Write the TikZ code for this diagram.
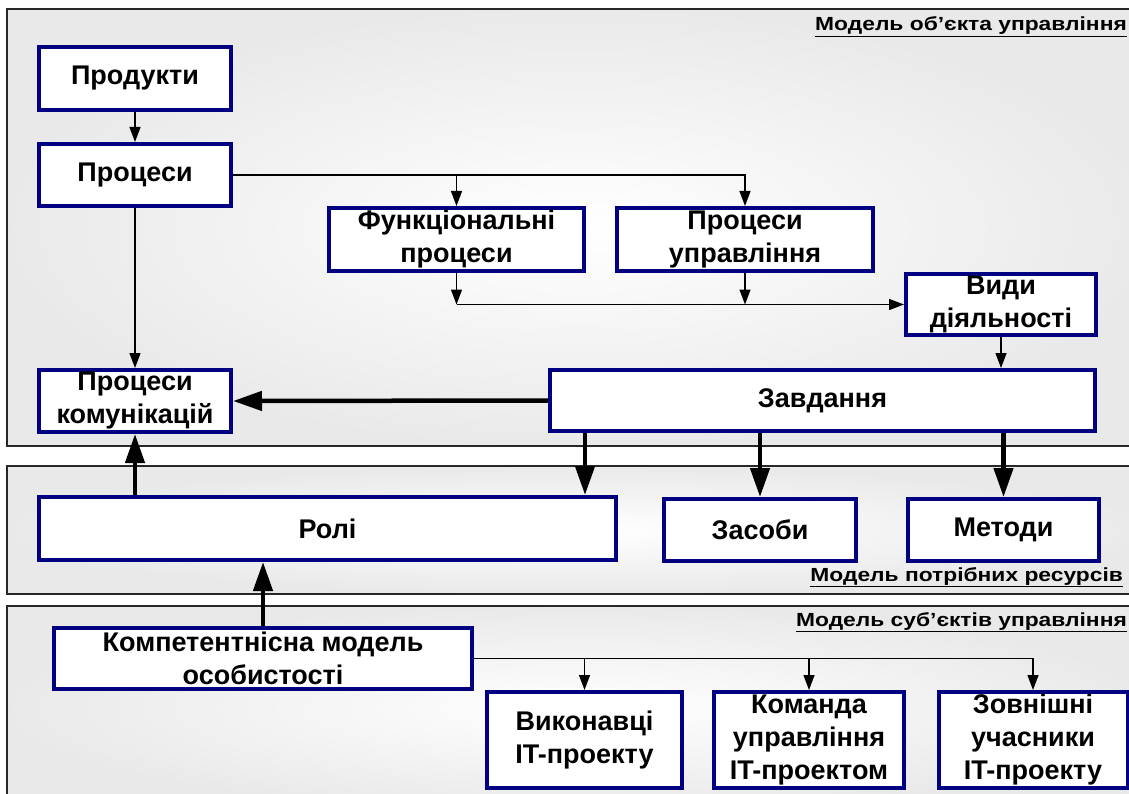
\documentclass[tikz,border=0pt]{standalone}
\usepackage{fontspec}
\setmainfont{Liberation Sans}
\newfontfamily\labelfont[FakeStretch=1.2]{Liberation Sans}
\usetikzlibrary{arrows.meta}
\definecolor{boxblue}{RGB}{0,0,128}
\definecolor{panelline}{RGB}{40,40,40}
\tikzset{
  panel/.style={draw=panelline, line width=1.3pt, inner color=white, outer color=gray!17},
  box/.style={draw=boxblue, line width=4pt, fill=white, inner sep=0pt, align=center,
    font=\fontsize{27}{33}\selectfont\bfseries},
  plabel/.style={anchor=east, inner sep=0pt, font=\labelfont\fontsize{19}{22}\selectfont\bfseries},
  thin/.style={line width=1.3pt, -{Triangle[length=15pt,width=11pt]}},
  thick/.style={line width=4.5pt, -{Triangle[length=29pt,width=19pt]}}
}
\begin{document}
\begin{tikzpicture}[x=1pt,y=-1pt]
\useasboundingbox (0,0) rectangle (1129,794);
\clip (0,0) rectangle (1129,794);
\fill[white] (0,0) rectangle (1129,794);
% panels
\path[panel] (7,9) rectangle (1150,446);
\path[panel] (7,466) rectangle (1150,594);
\path[panel] (7,606) rectangle (1150,810);
\node[plabel] (l1) at (1127,27) {\underline{Модель об’єкта управління}};
\node[plabel] (l2) at (1123,577) {\underline{Модель потрібних ресурсів}};
\node[plabel] (l3) at (1127,622) {\underline{Модель суб’єктів управління}};
% boxes
\node[box, minimum width=192, minimum height=63] (prod) at (135,78.5) {Продукти};
\node[box, minimum width=192, minimum height=62] (proc) at (135,175) {Процеси};
\node[box, minimum width=255, minimum height=63] (func) at (456.5,239.5) {Функціональні\\процеси};
\node[box, minimum width=256, minimum height=63] (upr) at (745,239.5) {Процеси\\управління};
\node[box, minimum width=190, minimum height=61] (vydy) at (1001,304.5) {Види\\діяльності};
\node[box, minimum width=192, minimum height=62] (kom) at (135,401) {Процеси\\комунікацій};
\node[box, minimum width=545, minimum height=61] (zav) at (822.5,400.5) {Завдання};
\node[box, minimum width=577, minimum height=63] (roli) at (327.5,528.5) {Ролі};
\node[box, minimum width=192, minimum height=62] (zas) at (760,530) {Засоби};
\node[box, minimum width=191, minimum height=62] (met) at (1003.5,530) {Методи};
\node[box, minimum width=418, minimum height=61] (komp) at (263,658.5) {Компетентнісна модель\\особистості};
\node[box, minimum width=195, minimum height=96] (vyk) at (584.5,740) {Виконавці\\IT-проекту};
\node[box, minimum width=190, minimum height=96] (koman) at (809,740) {Команда\\управління\\IT-проектом};
\node[box, minimum width=189, minimum height=96] (zovn) at (1033,740) {Зовнішні\\учасники\\IT-проекту};
\coordinate (xr) at (585,0);
% thin connectors
\draw[thin] (prod.south) -- (proc.north);
\draw[thin] (proc.south) -- (kom.north);
\draw[thin] (proc.east) -| (func.north);
\draw[thin] (proc.east) -| (upr.north);
\draw[thin] (func.south) -- (func.south |- vydy.west);
\draw[thin] (upr.south) -- (upr.south |- vydy.west);
\draw[thin] (func.south |- vydy.west) -- (vydy.west);
\draw[thin] (vydy.south) -- (vydy.south |- zav.north);
\draw[thin] (komp.east) -| (vyk.north);
\draw[thin] (komp.east) -| (koman.north);
\draw[thin] (komp.east) -| (zovn.north);
% thick connectors
\draw[thick] (zav.west) -- (kom.east);
\draw[thick] (xr |- zav.south) -- (xr |- roli.north);
\draw[thick] (zas.north |- zav.south) -- (zas.north);
\draw[thick] (met.north |- zav.south) -- (met.north);
\draw[thick] (roli.north -| kom.south) -- (kom.south);
\draw[thick] (komp.north) -- (komp.north |- roli.south);
\end{tikzpicture}
\end{document}
